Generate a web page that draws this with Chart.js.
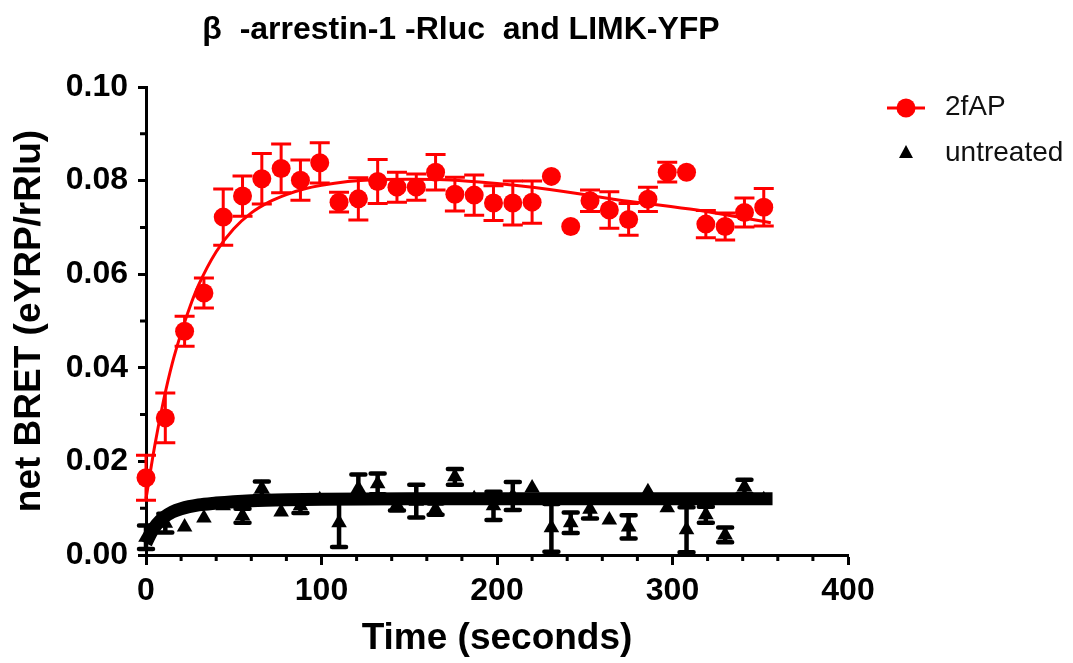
<!DOCTYPE html>
<html>
<head>
<meta charset="utf-8">
<script src="https://cdn.jsdelivr.net/npm/chart.js@4"></script>
<style>
  html, body { margin: 0; padding: 0; background: #fff; }
  #wrap { width: 1073px; height: 663px; position: relative; }
</style>
</head>
<body>
<div id="wrap"><canvas id="chart"></canvas></div>
<script>
// sampling times (s)
const times = [0, 11, 22, 33, 44, 55, 66, 77, 88, 99, 110, 121, 132, 143, 154, 165, 176,
    187, 198, 209, 220, 231, 242, 253, 264, 275, 286, 297, 308, 319, 330, 341, 352];

// 2fAP mean and SEM
const redMean = [0.0165, 0.0293, 0.0478, 0.0560, 0.0722, 0.0767, 0.0804, 0.0826, 0.0801, 0.0838, 0.0754,
    0.0761, 0.0798, 0.0786, 0.0786, 0.0818, 0.0771, 0.0769, 0.0752, 0.0752, 0.0754, 0.0809,
    0.0702, 0.0757, 0.0737, 0.0717, 0.0760, 0.0818, 0.0818, 0.0707, 0.0702, 0.0732, 0.0743];
const redErr = [0.0048, 0.0053, 0.0032, 0.0032, 0.0060, 0.0043, 0.0054, 0.0052, 0.0043, 0.0043, 0.0021,
    0.0045, 0.0047, 0.0032, 0.0028, 0.0038, 0.0036, 0.0043, 0.0037, 0.0047, 0.0045, 0,
    0, 0.0023, 0.0039, 0.0034, 0.0026, 0.0021, 0, 0.0029, 0.0029, 0.0031, 0.0040];

// untreated mean and SEM
const blackMean = [0.0038, 0.0068, 0.0060, 0.0079, 0.0105, 0.0084, 0.0142, 0.0092, 0.0105, 0.0118, 0.0069,
    0.0142, 0.0152, 0.0107, 0.0115, 0.0098, 0.0167, 0.0120, 0.0105, 0.0126, 0.0143, 0.0058,
    0.0069, 0.0098, 0.0075, 0.0060, 0.0135, 0.0101, 0.0054, 0.0086, 0.0043, 0.0146, 0.0118];
const blackErr = [0.0025, 0.0020, 0, 0, 0, 0.0015, 0.0015, 0, 0.0015, 0, 0.0052,
    0.0030, 0.0022, 0.0012, 0.0035, 0.0012, 0.0017, 0, 0.0030, 0.0030, 0, 0.0051,
    0.0022, 0.0020, 0, 0.0025, 0, 0, 0.0048, 0.0017, 0.0016, 0.0015, 0];

// fitted curves
const redFitT = [0, 5, 10, 15, 20, 25, 30, 40, 50, 60, 70, 80, 90, 100, 115, 130, 150, 170,
    190, 210, 230, 255, 270, 290, 314, 335, 356];
const redFit = [0.0120, 0.0234, 0.0330, 0.0410, 0.0474, 0.0530, 0.0577, 0.0648, 0.0697, 0.0731, 0.0754,
    0.0770, 0.0782, 0.0790, 0.0798, 0.0802, 0.0803, 0.0802, 0.0797, 0.0790, 0.0781, 0.0767,
    0.0758, 0.0749, 0.0737, 0.0724, 0.0710];
const blackFitT = [0, 3, 6, 10, 15, 20, 30, 40, 50, 60, 80, 100, 150, 200, 250, 300, 357];
const blackFit = [0.0025, 0.0048, 0.0065, 0.0080, 0.0092, 0.0099, 0.0107, 0.0111, 0.0114, 0.0116,
    0.0118, 0.0119, 0.0120, 0.0120, 0.0120, 0.0120, 0.0120];

const xTicks = [0, 100, 200, 300, 400];
const yTicks = [0, 0.02, 0.04, 0.06, 0.08, 0.10];
const seriesNames = ['2fAP', 'untreated'];
const chartTitle = 'β  -arrestin-1 -Rluc  and LIMK-YFP';

const RED = '#ff0000';
const FONT = 'Arial, "Liberation Sans", sans-serif';

const pts = (xs, ys) => xs.map((t, i) => ({ x: t, y: ys[i] }));

const errorBars = {
    id: 'errorBars',
    beforeDatasetsDraw(chart) {
        const { ctx, scales: { x, y } } = chart;
        chart.data.datasets.forEach((ds) => {
            if (!ds.errors) return;
            ctx.save();
            ctx.strokeStyle = ds.borderColor;
            ctx.lineWidth = ds.errWidth;
            ctx.lineCap = ds.errCap;
            ds.data.forEach((p, i) => {
                const e = ds.errors[i];
                if (!e) return;
                const px = x.getPixelForValue(p.x);
                const top = y.getPixelForValue(p.y + e);
                const bot = y.getPixelForValue(p.y - e);
                ctx.beginPath();
                ctx.moveTo(px, top); ctx.lineTo(px, bot);
                ctx.moveTo(px - ds.capHalf, top); ctx.lineTo(px + ds.capHalf, top);
                ctx.moveTo(px - ds.capHalf, bot); ctx.lineTo(px + ds.capHalf, bot);
                ctx.stroke();
            });
            ctx.restore();
        });
    }
};

const decor = {
    id: 'decor',
    afterDraw(chart) {
        const { ctx, scales: { x, y } } = chart;
        ctx.save();
        // minor ticks
        ctx.strokeStyle = '#000';
        ctx.lineWidth = 3;
        ctx.beginPath();
        for (let v = 20; v < 400; v += 20) {
            if (v % 100 === 0) continue;
            const px = x.getPixelForValue(v);
            ctx.moveTo(px, y.bottom); ctx.lineTo(px, y.bottom + 6);
        }
        for (let k = 1; k < 10; k += 2) {
            const py = y.getPixelForValue(k / 100);
            ctx.moveTo(x.left, py); ctx.lineTo(x.left - 6, py);
        }
        ctx.stroke();

        // title
        ctx.fillStyle = '#000';
        ctx.font = 'bold 32px ' + FONT;
        ctx.textAlign = 'center';
        ctx.textBaseline = 'middle';
        ctx.fillText(chartTitle, 461, 30);

        // legend
        ctx.strokeStyle = RED;
        ctx.lineWidth = 3;
        ctx.beginPath();
        ctx.moveTo(887, 108); ctx.lineTo(925, 108);
        ctx.stroke();
        ctx.fillStyle = RED;
        ctx.beginPath();
        ctx.arc(906, 108, 9.5, 0, Math.PI * 2);
        ctx.fill();
        ctx.fillStyle = '#000';
        ctx.beginPath();
        ctx.moveTo(906, 145); ctx.lineTo(913, 158); ctx.lineTo(899, 158);
        ctx.closePath();
        ctx.fill();
        ctx.fillStyle = '#111';
        ctx.font = '28px ' + FONT;
        ctx.textAlign = 'left';
        ctx.fillText(seriesNames[0], 945, 107);
        ctx.fillText(seriesNames[1], 945, 153);
        ctx.restore();
    }
};

new Chart(document.getElementById('chart'), {
    type: 'scatter',
    data: {
        datasets: [
            {
                label: seriesNames[0],
                data: pts(times, redMean),
                errors: redErr, errWidth: 3, capHalf: 10, errCap: 'butt',
                borderColor: RED, backgroundColor: RED,
                pointRadius: 9.5, pointBorderWidth: 0, showLine: false, clip: false
            },
            {
                label: seriesNames[0] + ' fit',
                data: pts(redFitT, redFit),
                borderColor: RED, borderWidth: 3, pointRadius: 0, showLine: true,
                cubicInterpolationMode: 'monotone', clip: false
            },
            {
                label: seriesNames[1],
                data: pts(times, blackMean),
                errors: blackErr, errWidth: 4.5, capHalf: 7, errCap: 'round',
                borderColor: '#000', backgroundColor: '#000',
                pointStyle: 'triangle', pointRadius: 9, pointBorderWidth: 0, showLine: false, clip: false
            },
            {
                label: seriesNames[1] + ' fit',
                data: pts(blackFitT, blackFit),
                borderColor: '#000', borderWidth: 13, pointRadius: 0, showLine: true,
                cubicInterpolationMode: 'monotone', clip: false
            }
        ]
    },
    options: {
        responsive: true,
        maintainAspectRatio: false,
        animation: false,
        layout: { padding: { left: 0, right: 225, top: 87, bottom: 0 } },
        plugins: {
            legend: { display: false },
            title: { display: false },
            tooltip: { enabled: false }
        },
        scales: {
            x: {
                type: 'linear',
                min: 0, max: 400,
                afterFit: (scale) => { scale.height = 108; },
                afterBuildTicks: (scale) => { scale.ticks = xTicks.map(v => ({ value: v })); },
                border: { color: '#000', width: 3 },
                grid: { drawOnChartArea: false, tickLength: 10, tickWidth: 3, tickColor: '#000' },
                ticks: { color: '#000', font: { family: FONT, size: 32, weight: 'bold' }, padding: 7 },
                title: {
                    display: true, text: 'Time (seconds)', color: '#000',
                    font: { family: FONT, size: 37, weight: 'bold' }, padding: { top: 0, bottom: 2 }
                }
            },
            y: {
                min: 0, max: 0.1,
                afterFit: (scale) => { scale.width = 146; },
                afterBuildTicks: (scale) => { scale.ticks = yTicks.map(v => ({ value: v })); },
                border: { color: '#000', width: 3 },
                grid: { drawOnChartArea: false, tickLength: 8, tickWidth: 3, tickColor: '#000' },
                ticks: {
                    color: '#000', font: { family: FONT, size: 32, weight: 'bold' }, padding: 10,
                    callback: (v) => v.toFixed(2)
                },
                title: {
                    display: true, text: 'net BRET (eYRP/rRlu)', color: '#000',
                    font: { family: FONT, size: 37, weight: 'bold' }, padding: { top: 8, bottom: 0 }
                }
            }
        }
    },
    plugins: [errorBars, decor]
});
</script>
</body>
</html>
